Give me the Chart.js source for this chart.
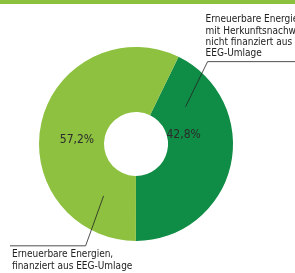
<!DOCTYPE html>
<html lang="de">
  <head>
    <meta charset="UTF-8" />
    <title>Stromkennzeichnung</title>
    <style>
      html, body { margin: 0; padding: 0; background: #fff; }
      #wrap { position: relative; width: 295px; height: 273px; }
      #topbar { position: absolute; left: 0; top: 0; width: 295px; height: 4px; background: #8cc13f; }
    </style>
  </head>
  <body>
    <script src="https://cdn.jsdelivr.net/npm/chart.js"></script>
    <div id="wrap">
      <div id="topbar"></div>
      <canvas id="myChart" width="295" height="273"></canvas>
    </div>
    <script>
      const categories = [
        "Erneuerbare Energien mit Herkunftsnachweis, nicht finanziert aus EEG-Umlage",
        "Erneuerbare Energien, finanziert aus EEG-Umlage",
      ];
      const shares = [42.8, 57.2];
      const shareLabels = ["42,8%", "57,2%"];
      const sliceColors = ["#0f8c45", "#8dc13f"];
      const calloutLines = [
        ["Erneuerbare Energien", "mit Herkunftsnachweis", "nicht finanziert aus", "EEG-Umlage"],
        ["Erneuerbare Energien,", "finanziert aus EEG-Umlage"],
      ];

      const FONT = "'Liberation Sans Narrow', 'DejaVu Sans Condensed', sans-serif";

      // point on the ring: angle in degrees clockwise from top, r as fraction of outer radius
      function ringPoint(arc, deg, frac) {
        const a = (deg - 90) * Math.PI / 180;
        const r = arc.outerRadius * frac;
        return { x: arc.x + r * Math.cos(a), y: arc.y + r * Math.sin(a) };
      }

      const labelPlugin = {
        id: "labels",
        afterDraw(chart) {
          const ctx = chart.ctx;
          const arc = chart.getDatasetMeta(0).data[0];
          ctx.save();

          // percentage labels
          ctx.fillStyle = "#2b2b2b";
          ctx.font = "12px " + FONT;
          ctx.textAlign = "center";
          ctx.textBaseline = "middle";
          const p0 = ringPoint(arc, 79, 0.5);
          ctx.fillText(shareLabels[0], p0.x, p0.y);
          const p1 = ringPoint(arc, 274, 0.61);
          ctx.fillText(shareLabels[1], p1.x, p1.y);

          // callout leader lines
          ctx.strokeStyle = "#222";
          ctx.lineWidth = 0.8;
          const a0 = ringPoint(arc, 53, 0.64);
          ctx.beginPath();
          ctx.moveTo(a0.x, a0.y);
          ctx.lineTo(a0.x + 22, a0.y - 45);
          ctx.lineTo(chart.width, a0.y - 45);
          ctx.stroke();

          const a1 = ringPoint(arc, 212, 0.63);
          ctx.beginPath();
          ctx.moveTo(a1.x, a1.y);
          ctx.lineTo(a1.x - 18, a1.y + 50);
          ctx.lineTo(10, a1.y + 50);
          ctx.stroke();

          // callout texts
          ctx.fillStyle = "#222";
          ctx.font = "10px " + FONT;
          ctx.textAlign = "left";
          ctx.textBaseline = "middle";
          calloutLines[0].forEach((t, i) => ctx.fillText(t, a0.x + 20, a0.y - 87 + i * 11.3));
          calloutLines[1].forEach((t, i) => ctx.fillText(t, 12, a1.y + 59 + i * 11.5));
          ctx.restore();
        },
      };

      new Chart("myChart", {
        type: "doughnut",
        data: {
          labels: categories,
          datasets: [
            {
              data: shares,
              backgroundColor: sliceColors,
              borderWidth: 0,
            },
          ],
        },
        options: {
          responsive: false,
          animation: false,
          rotation: 26,
          cutout: "33%",
          layout: { padding: { left: 39, right: 62, top: 47, bottom: 32 } },
          plugins: {
            legend: { display: false },
            tooltip: { enabled: false },
          },
        },
        plugins: [labelPlugin],
      });
    </script>
  </body>
</html>
